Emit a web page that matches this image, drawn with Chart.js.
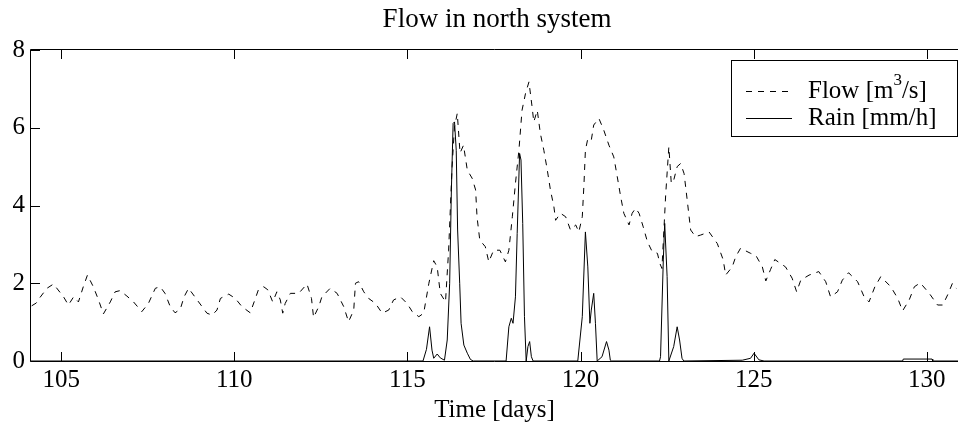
<!DOCTYPE html>
<html><head><meta charset="utf-8">
<script src="https://cdn.jsdelivr.net/npm/chart.js@4.4.1/dist/chart.umd.min.js"></script>
<style>html,body{margin:0;padding:0;background:#fff;}#wrap{width:958px;height:429px;}</style>
</head><body><div id="wrap"><canvas id="c" width="958" height="429"></canvas></div>
<script>
// ---- data ----
const flowT = [104.15,104.28,104.36,104.59,104.78,105.07,105.21,105.36,105.5,105.64,105.76,105.93,106.08,106.22,106.42,106.56,106.7,106.9,107.09,107.33,107.52,107.72,107.86,108.0,108.15,108.29,108.44,108.55,108.68,108.97,109.21,109.36,109.5,109.6,109.84,110.03,110.22,110.46,110.61,110.7,110.85,110.97,111.11,111.23,111.33,111.4,111.47,111.62,111.86,112.1,112.23,112.29,112.44,112.53,112.77,112.97,113.16,113.3,113.45,113.5,113.59,113.74,113.88,114.08,114.27,114.46,114.6,114.8,114.99,115.14,115.33,115.47,115.62,115.76,115.86,115.95,116.1,116.19,116.29,116.36,116.44,116.52,116.62,116.73,116.87,116.97,117.01,117.09,117.25,117.35,117.49,117.67,117.83,117.93,118.03,118.12,118.22,118.31,118.41,118.51,118.6,118.65,118.75,118.84,118.94,119.04,119.13,119.23,119.28,119.42,119.57,119.71,119.86,119.95,120.05,120.1,120.14,120.21,120.31,120.38,120.53,120.67,120.82,120.96,121.06,121.16,121.25,121.4,121.49,121.59,121.69,121.81,121.93,122.07,122.22,122.29,122.35,122.42,122.46,122.55,122.62,122.69,122.79,122.89,122.99,123.08,123.13,123.18,123.32,123.47,123.71,123.95,124.12,124.19,124.38,124.48,124.62,124.91,125.06,125.25,125.35,125.49,125.61,125.92,126.11,126.24,126.36,126.6,126.88,127.08,127.22,127.42,127.56,127.74,128.0,128.19,128.33,128.5,128.67,128.96,129.16,129.3,129.49,129.64,129.81,130.07,130.31,130.46,130.6,130.74,130.85];
const flowV = [1.42,1.49,1.6,1.87,1.98,1.65,1.44,1.65,1.52,1.91,2.21,1.91,1.57,1.21,1.52,1.78,1.81,1.67,1.52,1.27,1.48,1.87,1.91,1.74,1.4,1.24,1.33,1.65,1.87,1.52,1.23,1.18,1.31,1.61,1.72,1.61,1.4,1.24,1.61,1.84,1.91,1.83,1.52,1.78,1.57,1.23,1.48,1.74,1.74,1.98,1.61,1.12,1.4,1.65,1.87,1.74,1.4,1.01,1.31,2.0,2.04,1.78,1.61,1.48,1.23,1.31,1.57,1.65,1.48,1.27,1.14,1.23,2.0,2.58,2.42,1.74,1.52,2.85,5.0,6.02,6.37,5.35,5.55,4.91,4.7,4.4,3.71,3.11,2.94,2.55,2.85,2.85,2.55,2.85,3.71,4.57,5.42,6.45,6.88,7.18,6.54,6.15,6.45,5.85,5.42,4.91,4.4,3.97,3.62,3.8,3.71,3.37,3.5,3.32,3.71,4.57,5.42,5.72,5.68,6.07,6.24,5.94,5.55,5.25,4.74,4.22,3.8,3.5,3.8,3.93,3.8,3.45,3.07,2.81,2.77,2.51,2.38,3.6,4.3,5.51,4.57,4.65,5.0,5.08,4.82,4.14,3.75,3.37,3.2,3.24,3.32,3.02,2.6,2.21,2.42,2.68,2.9,2.77,2.72,2.42,2.06,2.36,2.61,2.42,2.13,1.78,2.08,2.21,2.3,2.04,1.65,1.78,2.08,2.27,2.04,1.65,1.52,1.91,2.17,1.91,1.61,1.29,1.57,1.91,2.01,1.74,1.44,1.44,1.7,2.0,1.87];
const rainT = [104.13,115.45,115.55,115.64,115.71,115.76,115.86,115.95,116.07,116.15,116.22,116.27,116.32,116.36,116.41,116.45,116.51,116.55,116.63,116.73,116.82,116.9,117.85,117.93,118.0,118.05,118.12,118.17,118.24,118.28,118.33,118.38,118.43,118.48,118.53,118.58,118.63,119.92,120.05,120.14,120.21,120.27,120.31,120.38,120.43,120.48,120.62,120.75,120.82,120.86,120.9,122.28,122.31,122.39,122.43,122.5,122.55,122.69,122.79,122.86,122.93,122.98,124.67,124.91,125.01,125.15,125.3,129.3,129.32,130.15,130.17,130.9];
const rainV = [0,0,0.3,0.88,0.28,0.07,0.18,0.08,0.02,0.54,2.0,4.4,6.11,6.15,5.42,3.37,2.0,0.97,0.41,0.2,0.04,0,0,0.88,1.1,0.97,1.65,3.28,5.34,5.17,3.54,1.14,0,0.37,0.5,0.11,0,0,1.14,3.32,2.42,0.97,1.31,1.74,0.97,0,0.11,0.5,0.28,0.02,0,0,0.11,2.6,3.54,2.17,0,0.37,0.88,0.54,0.07,0,0.02,0.07,0.2,0.03,0,0,0.05,0.05,0,0];
const xTicks = [105,110,115,120,125,130];
const yTicks = [0,2,4,6,8];
const seriesLabels = ['Flow [m³/s]','Rain [mm/h]'];
const titleText = 'Flow in north system';
const xTitle = 'Time [days]';

const FONT = 'Liberation Serif';
const toPts = (ts, vs) => ts.map((t, i) => ({x: t, y: vs[i]}));

const framePlugin = {
  id: 'frame',
  afterDatasetsDraw(chart) {
    const {ctx, chartArea: a, scales: {x, y}} = chart;
    ctx.save();
    // title
    ctx.fillStyle = '#000';
    ctx.font = '27px "' + FONT + '"';
    ctx.textAlign = 'center';
    ctx.textBaseline = 'alphabetic';
    ctx.fillText(titleText, 497, 27);

    ctx.strokeStyle = '#000';
    ctx.lineWidth = 1;
    ctx.setLineDash([]);
    ctx.beginPath();
    ctx.moveTo(a.left - 0.5, a.top - 0.5); ctx.lineTo(a.right + 2, a.top - 0.5);
    ctx.moveTo(a.left - 0.5, a.top - 0.5); ctx.lineTo(a.left - 0.5, a.bottom + 0.5);
    ctx.moveTo(a.left - 0.5, a.bottom + 0.5); ctx.lineTo(a.right + 2, a.bottom + 0.5);
    const tl = 9;
    xTicks.forEach(v => {
      const p = Math.round(x.getPixelForValue(v)) + 0.5;
      ctx.moveTo(p, a.bottom + 0.5); ctx.lineTo(p, a.bottom - tl);
      ctx.moveTo(p, a.top - 0.5); ctx.lineTo(p, a.top + tl);
    });
    yTicks.forEach(v => {
      const p = Math.round(y.getPixelForValue(v)) + 0.5;
      ctx.moveTo(a.left - 0.5, p); ctx.lineTo(a.left + tl, p);
    });
    ctx.stroke();

    // legend box
    const L = {x0: 731.5, y0: 60.5, x1: 957.5, y1: 136.5};
    ctx.fillStyle = '#fff';
    ctx.fillRect(L.x0, L.y0, L.x1 - L.x0, L.y1 - L.y0);
    ctx.strokeRect(L.x0, L.y0, L.x1 - L.x0, L.y1 - L.y0);
    const rows = [91, 118];
    chart.data.datasets.forEach((ds, i) => {
      const yy = rows[i] + 0.5;
      ctx.beginPath();
      ctx.setLineDash(ds.borderDash || []);
      ctx.lineWidth = ds.borderWidth;
      ctx.strokeStyle = ds.borderColor;
      ctx.moveTo(746, yy); ctx.lineTo(792, yy);
      ctx.stroke();
      ctx.setLineDash([]);
      ctx.fillStyle = '#000';
      ctx.textBaseline = 'middle';
      ctx.textAlign = 'left';
      const label = ds.label;
      const parts = label.split('³');
      let tx = 808;
      ctx.font = '25px "' + FONT + '"';
      if (parts.length === 2) {
        ctx.fillText(parts[0], tx, rows[i]);
        tx += ctx.measureText(parts[0]).width;
        ctx.font = '17px "' + FONT + '"';
        ctx.fillText('3', tx, rows[i] - 10);
        tx += ctx.measureText('3').width;
        ctx.font = '25px "' + FONT + '"';
        ctx.fillText(parts[1], tx, rows[i]);
      } else {
        ctx.fillText(label, tx, rows[i]);
      }
    });
    ctx.restore();
  }
};

new Chart(document.getElementById('c'), {
  type: 'line',
  data: {
    datasets: [
      {label: seriesLabels[0], data: toPts(flowT, flowV), borderColor: '#000', borderWidth: 1, borderDash: [6, 6], pointRadius: 0, fill: false, tension: 0},
      {label: seriesLabels[1], data: toPts(rainT, rainV), borderColor: '#000', borderWidth: 1, pointRadius: 0, fill: false, tension: 0}
    ]
  },
  options: {
    responsive: false,
    animation: false,
    devicePixelRatio: 1,
    layout: {padding: {left: 0, right: 0, top: 50, bottom: 0}},
    plugins: {
      legend: {display: false},
      tooltip: {enabled: false},
      title: {display: false}
    },
    scales: {
      x: {
        type: 'linear', min: 104.13, max: 130.9,
        grid: {display: false, drawTicks: false}, border: {display: false},
        afterBuildTicks: s => { s.ticks = xTicks.map(v => ({value: v})); },
        afterFit: s => { s.height = 68; },
        ticks: {color: '#000', font: {family: FONT, size: 25}, padding: 4, maxRotation: 0, autoSkip: false},
        title: {display: true, text: xTitle, color: '#000', font: {family: FONT, size: 25}, padding: {top: 0, bottom: 4}}
      },
      y: {
        type: 'linear', min: 0, max: 8,
        grid: {display: false, drawTicks: false}, border: {display: false},
        afterBuildTicks: s => { s.ticks = yTicks.map(v => ({value: v})); },
        afterFit: s => { s.width = 31; },
        ticks: {color: '#000', font: {family: FONT, size: 25}, padding: 6}
      }
    }
  },
  plugins: [framePlugin]
});
</script></body></html>
